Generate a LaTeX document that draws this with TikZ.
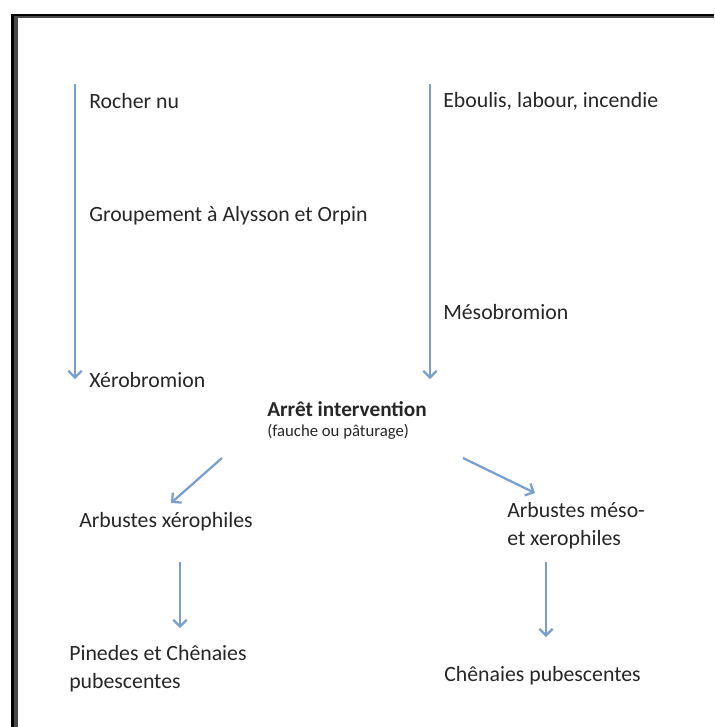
\documentclass[tikz,border=0pt]{standalone}
\usepackage{fontspec}
\setmainfont{Carlito}
\usetikzlibrary{arrows.meta}
\definecolor{arrowblue}{RGB}{121,158,208}
\definecolor{framegray}{RGB}{72,72,72}

\begin{document}
\begin{tikzpicture}[x=0.02646cm, y=-0.02646cm,
	flow/.style = {->, >={Straight Barb[length=5pt,width=10pt]}, draw=arrowblue, line width=1.7pt},
	stage/.style = {anchor=west, inner sep=0pt, align=left, text=black!85,
		font=\fontsize{16.4}{21}\selectfont}]
	
	% Page size
	\useasboundingbox (0,0) rectangle (714,727);
	
	% Frame (top and left edges)
	\fill[black] (11,14) rectangle (714,16);
	\fill[black] (11,14) rectangle (14,727);
	\fill[framegray] (14,16) rectangle (714,18);
	\fill[framegray] (14,16) rectangle (18,727);
	
	% Left succession
	\node[stage] (rocher) at (89,101) {Rocher nu};
	\node[stage] (groupement) at (89,216) {Groupement à Alysson et Orpin};
	\node[stage] (xero) at (89,380) {Xérobromion};
	
	% Right succession
	\node[stage] (eboulis) at (443,101) {Eboulis, labour, incendie};
	\node[stage] (meso) at (443,312) {Mésobromion};
	
	% Abandonment
	\node[stage, font=\fontsize{16}{21}\selectfont\bfseries] (arret) at (267,409) {Arrêt intervention};
	\node[stage, font=\fontsize{12.6}{15}\selectfont] (fauche) at (267,432) {(fauche ou pâturage)};
	
	% Shrubs and woods
	\node[stage] (arbxero) at (79,522) {Arbustes xérophiles};
	\node[stage] (arbmeso) at (507,526) {Arbustes méso-\\et xerophiles};
	\node[stage] (pinedes) at (69,669) {Pinedes et Chênaies\\pubescentes};
	\node[stage] (chenaies) at (444,676) {Chênaies pubescentes};
	
	% Arrow ends
	\coordinate (left top) at (75,84);
	\coordinate (left end) at (75,379);
	\coordinate (right top) at (430,84);
	\coordinate (right end) at (430,379);
	\coordinate (split left) at (222,458);
	\coordinate (xero tip) at (171,503);
	\coordinate (split right) at (463,458);
	\coordinate (meso tip) at (535,493);
	\coordinate (shrub left) at (180,562);
	\coordinate (pine tip) at (180,628);
	\coordinate (shrub right) at (546,562);
	\coordinate (oak tip) at (546,637);
	
	% Arrows
	\draw[flow] (left top) -- (left end);
	\draw[flow] (right top) -- (right end);
	\draw[flow] (split left) -- (xero tip);
	\draw[flow] (split right) -- (meso tip);
	\draw[flow] (shrub left) -- (pine tip);
	\draw[flow] (shrub right) -- (oak tip);
	
\end{tikzpicture}
\end{document}
